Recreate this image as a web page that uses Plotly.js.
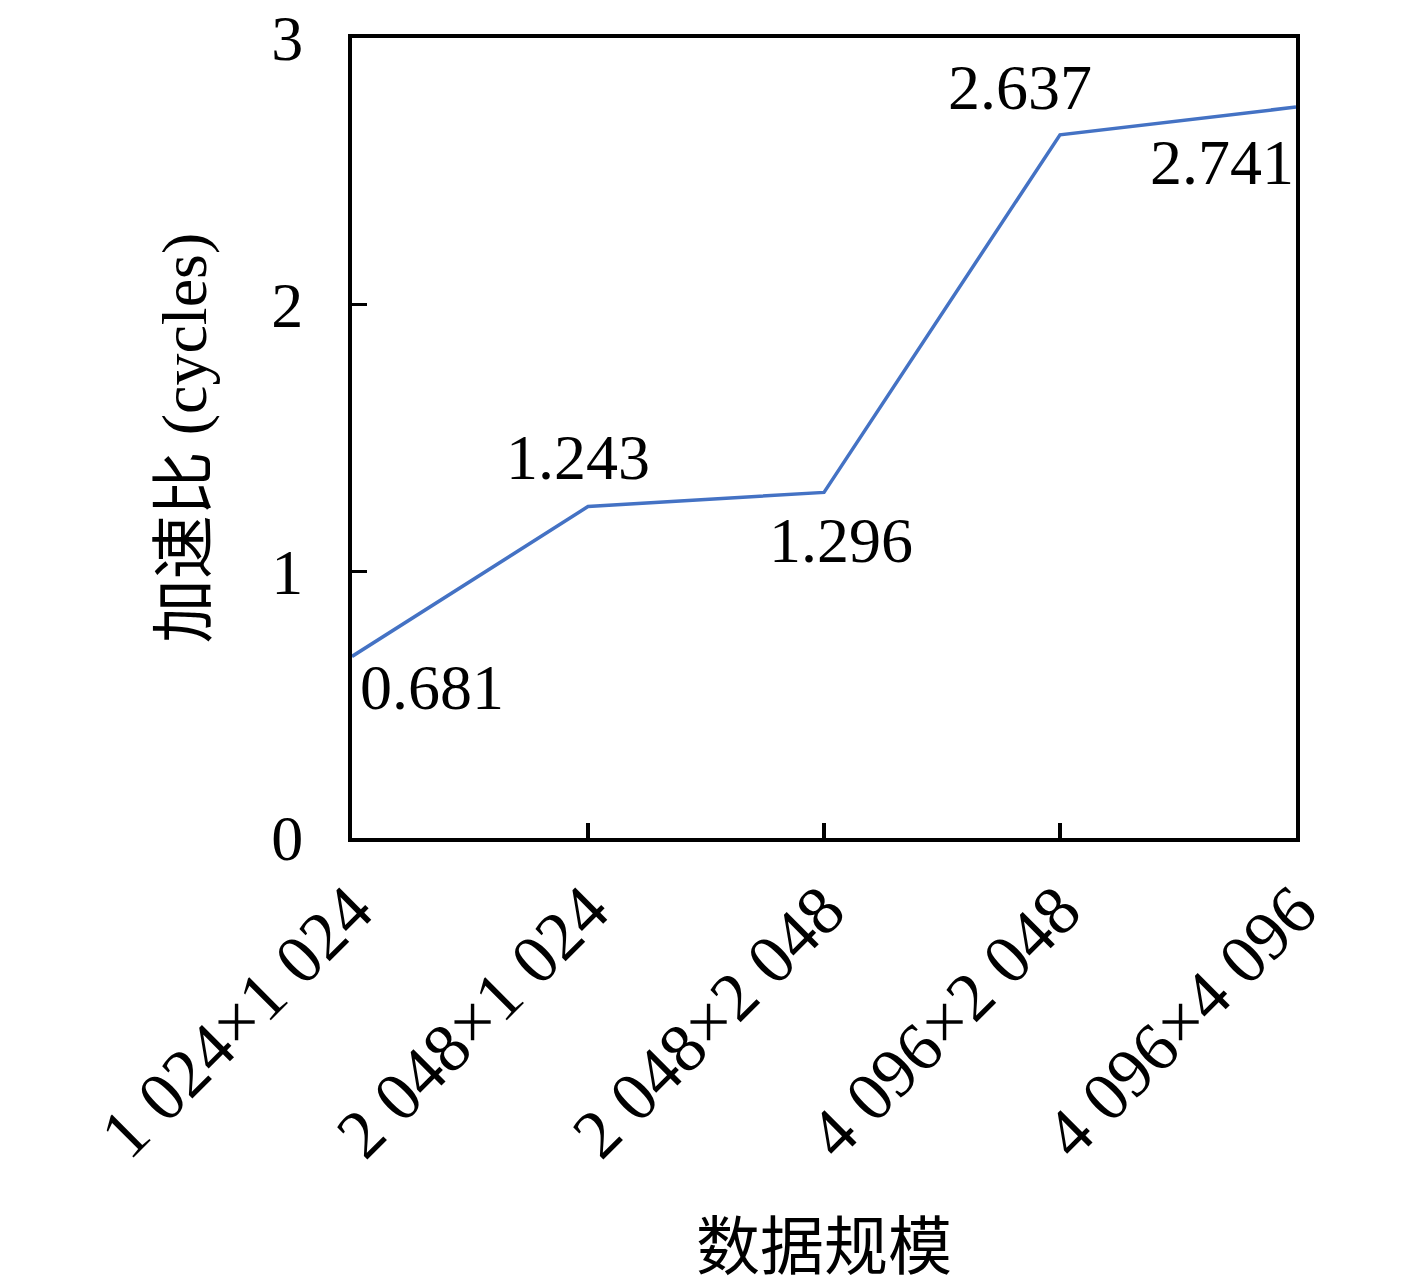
<!DOCTYPE html>
<html>
<head>
<meta charset="utf-8">
<script src="https://cdn.plot.ly/plotly-3.0.1.min.js"></script>
<style>html,body{margin:0;padding:0;background:#fff;}#chart{width:1417px;height:1283px;}</style>
</head>
<body>
<div id="chart"></div>
<script>
const categories = ["1 024×1 024", "2 048×1 024", "2 048×2 048", "4 096×2 048", "4 096×4 096"];
const speedup = [0.681, 1.243, 1.296, 2.637, 2.741];
const yTickVals = [0, 1, 2, 3];
const xTitle = "数据规模";
const yTitle = "加速比 (cycles)";

// label placement per point (style only)
const labelPos = [
  {xanchor: "left", yanchor: "top", xshift: 6, yshift: 6},
  {xanchor: "center", yanchor: "bottom", xshift: -10, yshift: 12},
  {xanchor: "center", yanchor: "top", xshift: 17, yshift: -11},
  {xanchor: "center", yanchor: "bottom", xshift: -40, yshift: 10},
  {xanchor: "right", yanchor: "top", xshift: 0, yshift: -18}
];

const FONT = "Liberation Serif, 'Noto Sans CJK SC', serif";

const trace = {
  x: categories,
  y: speedup,
  type: "scatter",
  mode: "lines",
  line: {color: "#4472C4", width: 3.5},
  hoverinfo: "skip"
};

const annotations = categories.map((c, i) => Object.assign({
  x: c, y: speedup[i], xref: "x", yref: "y",
  text: speedup[i].toFixed(3), showarrow: false,
  font: {family: FONT, size: 64, color: "#000"}
}, labelPos[i]));

const layout = {
  width: 1417, height: 1283,
  margin: {l: 352, r: 121, t: 38, b: 445},
  paper_bgcolor: "#fff", plot_bgcolor: "#fff",
  showlegend: false,
  font: {family: FONT, color: "#000"},
  xaxis: {
    type: "category",
    range: [0, 4],
    showgrid: false, zeroline: false,
    showline: true, linecolor: "#000", linewidth: 4, mirror: true,
    ticks: "inside", ticklen: 15, tickwidth: 3.5, tickcolor: "#000",
    tickangle: -45,
    tickfont: {family: FONT, size: 69, color: "#000"},
    title: {text: xTitle, font: {family: FONT, size: 64, color: "#000"}, standoff: 62}
  },
  yaxis: {
    range: [0, 3],
    tickvals: yTickVals,
    showgrid: false, zeroline: false,
    showline: true, linecolor: "#000", linewidth: 4, mirror: true,
    ticks: "inside", ticklen: 15, tickwidth: 3.5, tickcolor: "#000",
    ticklabelstandoff: 32,
    tickfont: {family: FONT, size: 64, color: "#000"},
    title: {text: yTitle, font: {family: FONT, size: 64, color: "#000"}, standoff: 45}
  },
  annotations: annotations
};

Plotly.newPlot("chart", [trace], layout, {displayModeBar: false, staticPlot: true});
</script>
</body>
</html>
